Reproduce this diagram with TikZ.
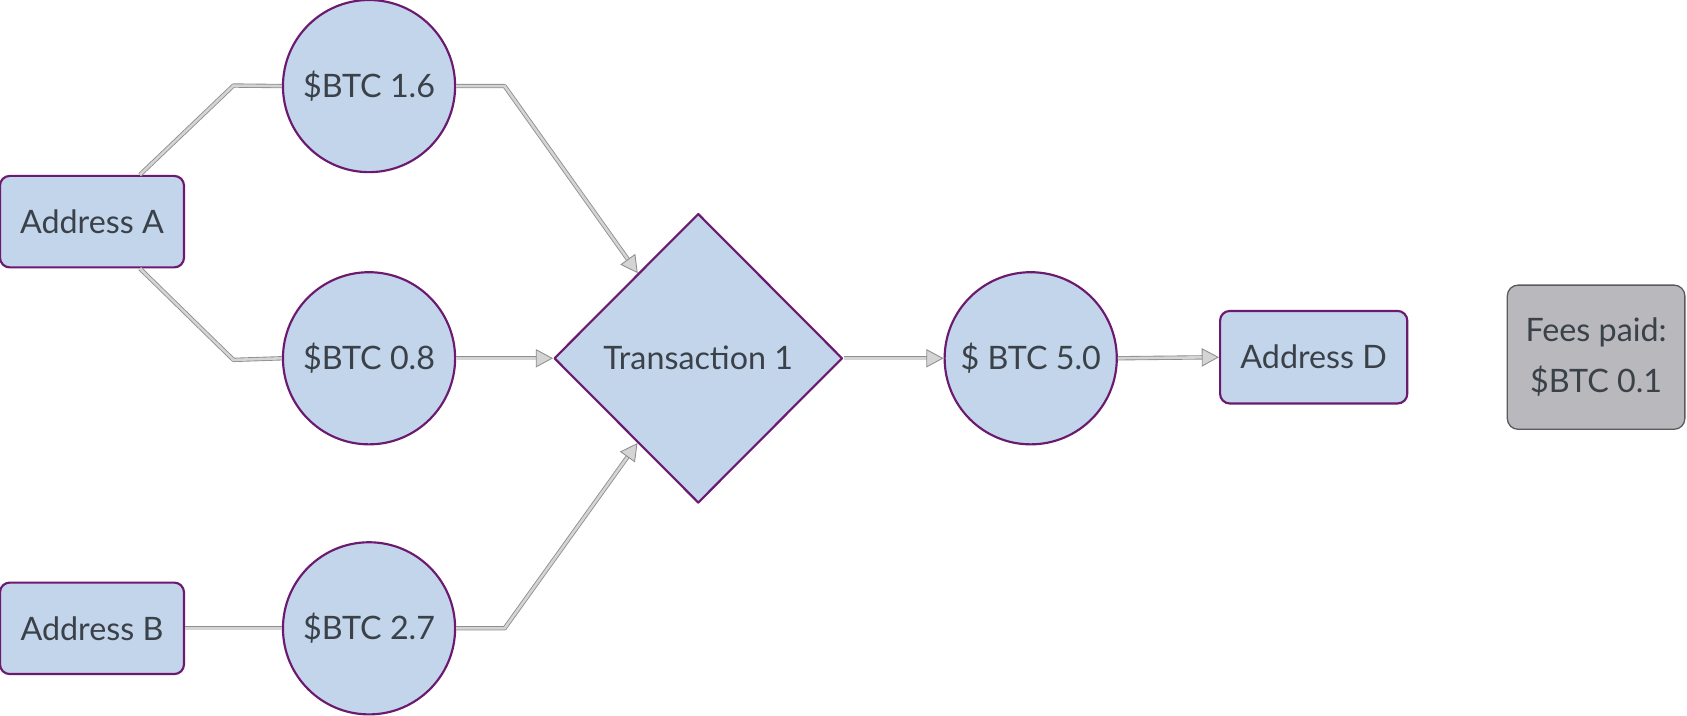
\documentclass[tikz,border=0pt]{standalone}
\usepackage{fontspec}
\setmainfont{Lato}
\usetikzlibrary{shapes.geometric,arrows.meta}
\definecolor{nodefill}{HTML}{C2D5EA}
\definecolor{nodeline}{HTML}{6B1A70}
\definecolor{txtcol}{HTML}{3B4149}
\definecolor{feefill}{HTML}{B8B8BD}
\definecolor{feeline}{HTML}{5A5A5E}
\definecolor{linkout}{HTML}{8E8E8E}
\definecolor{linkin}{HTML}{D4D4D4}
\begin{document}
\begin{tikzpicture}[x=0.5pt, y=-0.5pt, font=\fontsize{15}{23.5}\selectfont, line join=round,
	addr/.style={draw=nodeline, fill=nodefill, line width=1pt, rounded corners=4.5pt, text=txtcol, minimum width=85.5pt, minimum height=42.5pt, inner sep=0pt},
	coin/.style={circle, draw=nodeline, fill=nodefill, line width=1pt, text=txtcol, minimum size=80pt, inner sep=0pt},
	link/.style={draw=linkout, double=linkin, line width=0.4pt, double distance=1.2pt},
	tip/.style={-{Triangle[length=8pt,width=8.5pt,fill=linkin]}}]
		\useasboundingbox (0,0) rectangle (1568,665);
		\node[addr] (addrA) at (85.5,206) {Address A};
		\node[addr] (addrB) at (85.5,584) {Address B};
		\node[coin] (btcA) at (343,80) {\$BTC 1.6};
		\node[coin] (btcB) at (343,333) {\$BTC 0.8};
		\node[coin] (btcC) at (343,584) {\$BTC 2.7};
		\node[diamond, draw=nodeline, fill=nodefill, line width=1pt, text=txtcol, minimum width=134pt, minimum height=134.5pt, inner sep=0pt] (tx) at (649,333) {Transaction 1};
		\node[coin] (btcOut) at (958,333) {\$ BTC 5.0};
		\node[addr, minimum width=87pt, minimum height=43pt] (addrD) at (1221,332) {Address D};
		\node[draw=feeline, fill=feefill, line width=0.6pt, rounded corners=5pt, text=txtcol, minimum width=82.5pt, minimum height=67pt, align=center, inner sep=0pt] (fees) at (1483.5,332) {Fees paid:\\\$BTC 0.1};
		\draw[link] ([xshift=22.25pt]addrA.north) -- ++(87,-83) -- (btcA.west);
		\draw[link] ([xshift=22.25pt]addrA.south) -- ++(87,85) -- (btcB.west);
		\draw[link] (addrB.east) -- (btcC.west);
		\draw[link,tip] (btcA.east) -- ++(45,0) -- (tx);
		\draw[link,tip] (btcB.east) -- (tx.west);
		\draw[link,tip] (btcC.east) -- ++(45,0) -- (tx);
		\draw[link,tip] (tx.east) -- (btcOut.west);
		\draw[link,tip] (btcOut.east) -- (addrD.west);
\end{tikzpicture}
\end{document}
